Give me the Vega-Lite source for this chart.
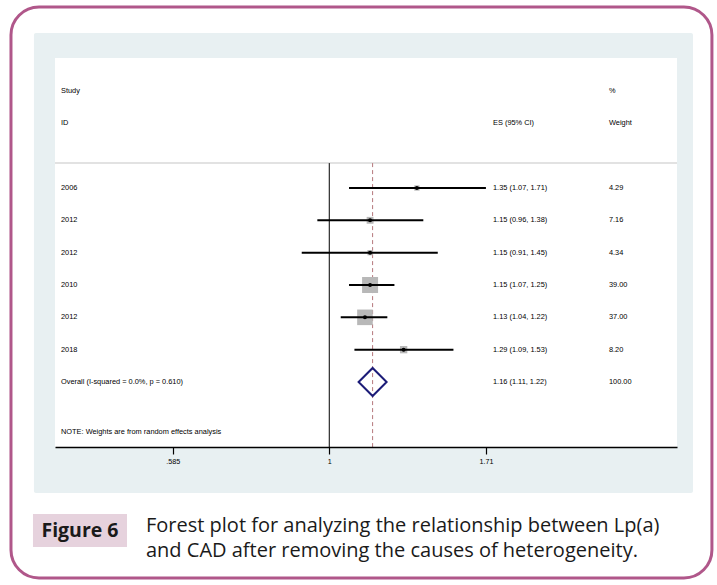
{
  "$schema": "https://vega.github.io/schema/vega-lite/v6.json",
  "autosize": {"type": "none"},
  "padding": {"left": 55, "top": 58, "right": 40, "bottom": 138},
  "width": 622,
  "height": 389,
  "background": "white",
  "config": {
    "view": {"stroke": null, "fill": null},
    "text": {"font": "Liberation Sans", "fontSize": 7.4, "color": "#000", "baseline": "middle", "align": "left"}
  },
  "datasets": {
    "studies": [
      {"label": "2006", "row": 1, "es": 1.35, "lo": 1.07, "hi": 1.71, "weight": 4.29, "esci": "1.35 (1.07, 1.71)"},
      {"label": "2012", "row": 2, "es": 1.15, "lo": 0.96, "hi": 1.38, "weight": 7.16, "esci": "1.15 (0.96, 1.38)"},
      {"label": "2012", "row": 3, "es": 1.15, "lo": 0.91, "hi": 1.45, "weight": 4.34, "esci": "1.15 (0.91, 1.45)"},
      {"label": "2010", "row": 4, "es": 1.15, "lo": 1.07, "hi": 1.25, "weight": 39.00, "esci": "1.15 (1.07, 1.25)"},
      {"label": "2012", "row": 5, "es": 1.13, "lo": 1.04, "hi": 1.22, "weight": 37.00, "esci": "1.13 (1.04, 1.22)"},
      {"label": "2018", "row": 6, "es": 1.29, "lo": 1.09, "hi": 1.53, "weight": 8.20, "esci": "1.29 (1.09, 1.53)"}
    ],
    "overall": [
      {"label": "Overall  (I-squared = 0.0%, p = 0.610)", "row": 7, "es": 1.16, "lo": 1.11, "hi": 1.22, "weight": 100.00, "esci": "1.16 (1.11, 1.22)"}
    ],
    "one": [{}]
  },
  "layer": [
    {
      "data": {"name": "one"},
      "mark": {"type": "rect", "fill": "transparent", "stroke": "#b0578a", "strokeWidth": 3, "cornerRadius": 28},
      "encoding": {
        "x": {"datum": 0.3362, "type": "quantitative", "scale": {"type": "log", "domain": [0.3909, 3.29], "nice": false}, "axis": {"zindex": 2, "values": [0.585, 1, 1.71], "labelExpr": "datum.value == 0.585 ? '.585' : toString(datum.value)", "title": null, "grid": false, "domainColor": "#000", "domainWidth": 1.5, "tickColor": "#000", "tickWidth": 1.2, "tickSize": 7, "labelFont": "Liberation Sans", "labelFontSize": 7.2, "labelColor": "#000", "labelPadding": 3}},
        "x2": {"datum": 3.708},
        "y": {"datum": -4.598, "type": "quantitative", "scale": {"domain": [-3.021, 9.011], "reverse": true, "nice": false, "zero": false}, "axis": null},
        "y2": {"datum": 13.063}
      }
    },
    {
      "data": {"name": "one"},
      "mark": {"type": "rect", "fill": "#e8f0f2", "cornerRadius": 2},
      "encoding": {
        "x": {"datum": 0.3637}, "x2": {"datum": 3.475},
        "y": {"datum": -3.794}, "y2": {"datum": 10.434}
      }
    },
    {
      "data": {"name": "one"},
      "mark": {"type": "rect", "fill": "white"},
      "encoding": {
        "x": {"datum": 0.3909}, "x2": {"datum": 3.29},
        "y": {"datum": -3.021}, "y2": {"datum": 9.011}
      }
    },
    {
      "data": {"name": "one"},
      "mark": {"type": "rule", "color": "#d9d9d9", "strokeWidth": 1.5},
      "encoding": {
        "x": {"datum": 0.3909}, "x2": {"datum": 3.29},
        "y": {"datum": 0.23}
      }
    },
    {
      "data": {"name": "one"},
      "mark": {"type": "rule", "color": "#000", "strokeWidth": 1},
      "encoding": {
        "x": {"datum": 1},
        "y": {"datum": 0.23}, "y2": {"datum": 9.011}
      }
    },
    {
      "data": {"name": "overall"},
      "mark": {"type": "rule", "color": "#b5787c", "strokeWidth": 1, "strokeDash": [4, 3]},
      "encoding": {
        "x": {"field": "es", "type": "quantitative"},
        "y": {"datum": 0.23}, "y2": {"datum": 9.011}
      }
    },
    {
      "data": {"name": "studies"},
      "mark": {"type": "point", "shape": "square", "filled": true, "color": "#b8b8b8", "opacity": 1},
      "encoding": {
        "x": {"field": "es", "type": "quantitative"},
        "y": {"field": "row", "type": "quantitative"},
        "size": {"field": "weight", "type": "quantitative", "scale": {"type": "linear", "domain": [0, 39], "range": [0, 256]}, "legend": null}
      }
    },
    {
      "data": {"name": "studies"},
      "mark": {"type": "rule", "color": "#000", "strokeWidth": 2},
      "encoding": {
        "x": {"field": "lo", "type": "quantitative"},
        "x2": {"field": "hi"},
        "y": {"field": "row", "type": "quantitative"}
      }
    },
    {
      "data": {"name": "studies"},
      "mark": {"type": "point", "shape": "circle", "filled": true, "color": "#000", "opacity": 1, "size": 16},
      "encoding": {
        "x": {"field": "es", "type": "quantitative"},
        "y": {"field": "row", "type": "quantitative"}
      }
    },
    {
      "data": {"name": "overall"},
      "mark": {"type": "point", "shape": "diamond", "filled": false, "color": "#1c1c78", "strokeWidth": 2, "opacity": 1, "size": 784},
      "encoding": {
        "x": {"field": "es", "type": "quantitative"},
        "y": {"field": "row", "type": "quantitative"}
      }
    },
    {
      "data": {"name": "studies"},
      "mark": {"type": "text"},
      "encoding": {"x": {"datum": 0.399}, "y": {"field": "row", "type": "quantitative"}, "text": {"field": "label"}}
    },
    {
      "data": {"name": "studies"},
      "mark": {"type": "text"},
      "encoding": {"x": {"datum": 1.752}, "y": {"field": "row", "type": "quantitative"}, "text": {"field": "esci"}}
    },
    {
      "data": {"name": "studies"},
      "mark": {"type": "text"},
      "encoding": {"x": {"datum": 2.606}, "y": {"field": "row", "type": "quantitative"}, "text": {"field": "weight", "format": ".2f"}}
    },
    {
      "data": {"name": "overall"},
      "mark": {"type": "text"},
      "encoding": {"x": {"datum": 0.399}, "y": {"field": "row", "type": "quantitative"}, "text": {"field": "label"}}
    },
    {
      "data": {"name": "overall"},
      "mark": {"type": "text"},
      "encoding": {"x": {"datum": 1.752}, "y": {"field": "row", "type": "quantitative"}, "text": {"field": "esci"}}
    },
    {
      "data": {"name": "overall"},
      "mark": {"type": "text"},
      "encoding": {"x": {"datum": 2.606}, "y": {"field": "row", "type": "quantitative"}, "text": {"field": "weight", "format": ".2f"}}
    },
    {
      "data": {"name": "one"},
      "mark": {"type": "text", "text": "Study"},
      "encoding": {"x": {"datum": 0.399}, "y": {"datum": -2}}
    },
    {
      "data": {"name": "one"},
      "mark": {"type": "text", "text": "ID"},
      "encoding": {"x": {"datum": 0.399}, "y": {"datum": -1}}
    },
    {
      "data": {"name": "one"},
      "mark": {"type": "text", "text": "ES (95% CI)"},
      "encoding": {"x": {"datum": 1.752}, "y": {"datum": -1}}
    },
    {
      "data": {"name": "one"},
      "mark": {"type": "text", "text": "%"},
      "encoding": {"x": {"datum": 2.606}, "y": {"datum": -2}}
    },
    {
      "data": {"name": "one"},
      "mark": {"type": "text", "text": "Weight"},
      "encoding": {"x": {"datum": 2.606}, "y": {"datum": -1}}
    },
    {
      "data": {"name": "one"},
      "mark": {"type": "text", "text": "NOTE: Weights are from random effects analysis"},
      "encoding": {"x": {"datum": 0.399}, "y": {"datum": 8.55}}
    },
    {
      "data": {"name": "one"},
      "mark": {"type": "rect", "fill": "#e6d2dd"},
      "encoding": {
        "x": {"datum": 0.3625}, "x2": {"datum": 0.5002},
        "y": {"datum": 11.083}, "y2": {"datum": 12.104}
      }
    },
    {
      "data": {"name": "one"},
      "mark": {"type": "text", "text": "Figure 6", "font": "Open Sans", "fontWeight": "bold", "fontSize": 19.5, "align": "center", "color": "#1a1a1a"},
      "encoding": {"x": {"datum": 0.4258}, "y": {"datum": 11.594}}
    },
    {
      "data": {"name": "one"},
      "mark": {"type": "text", "text": "Forest plot for analyzing the relationship between Lp(a)", "font": "Open Sans", "fontSize": 20, "color": "#1a1a1a"},
      "encoding": {"x": {"datum": 0.5338}, "y": {"datum": 11.44}}
    },
    {
      "data": {"name": "one"},
      "mark": {"type": "text", "text": "and CAD after removing the causes of heterogeneity.", "font": "Open Sans", "fontSize": 20, "color": "#1a1a1a"},
      "encoding": {"x": {"datum": 0.5338}, "y": {"datum": 12.24}}
    }
  ]
}
